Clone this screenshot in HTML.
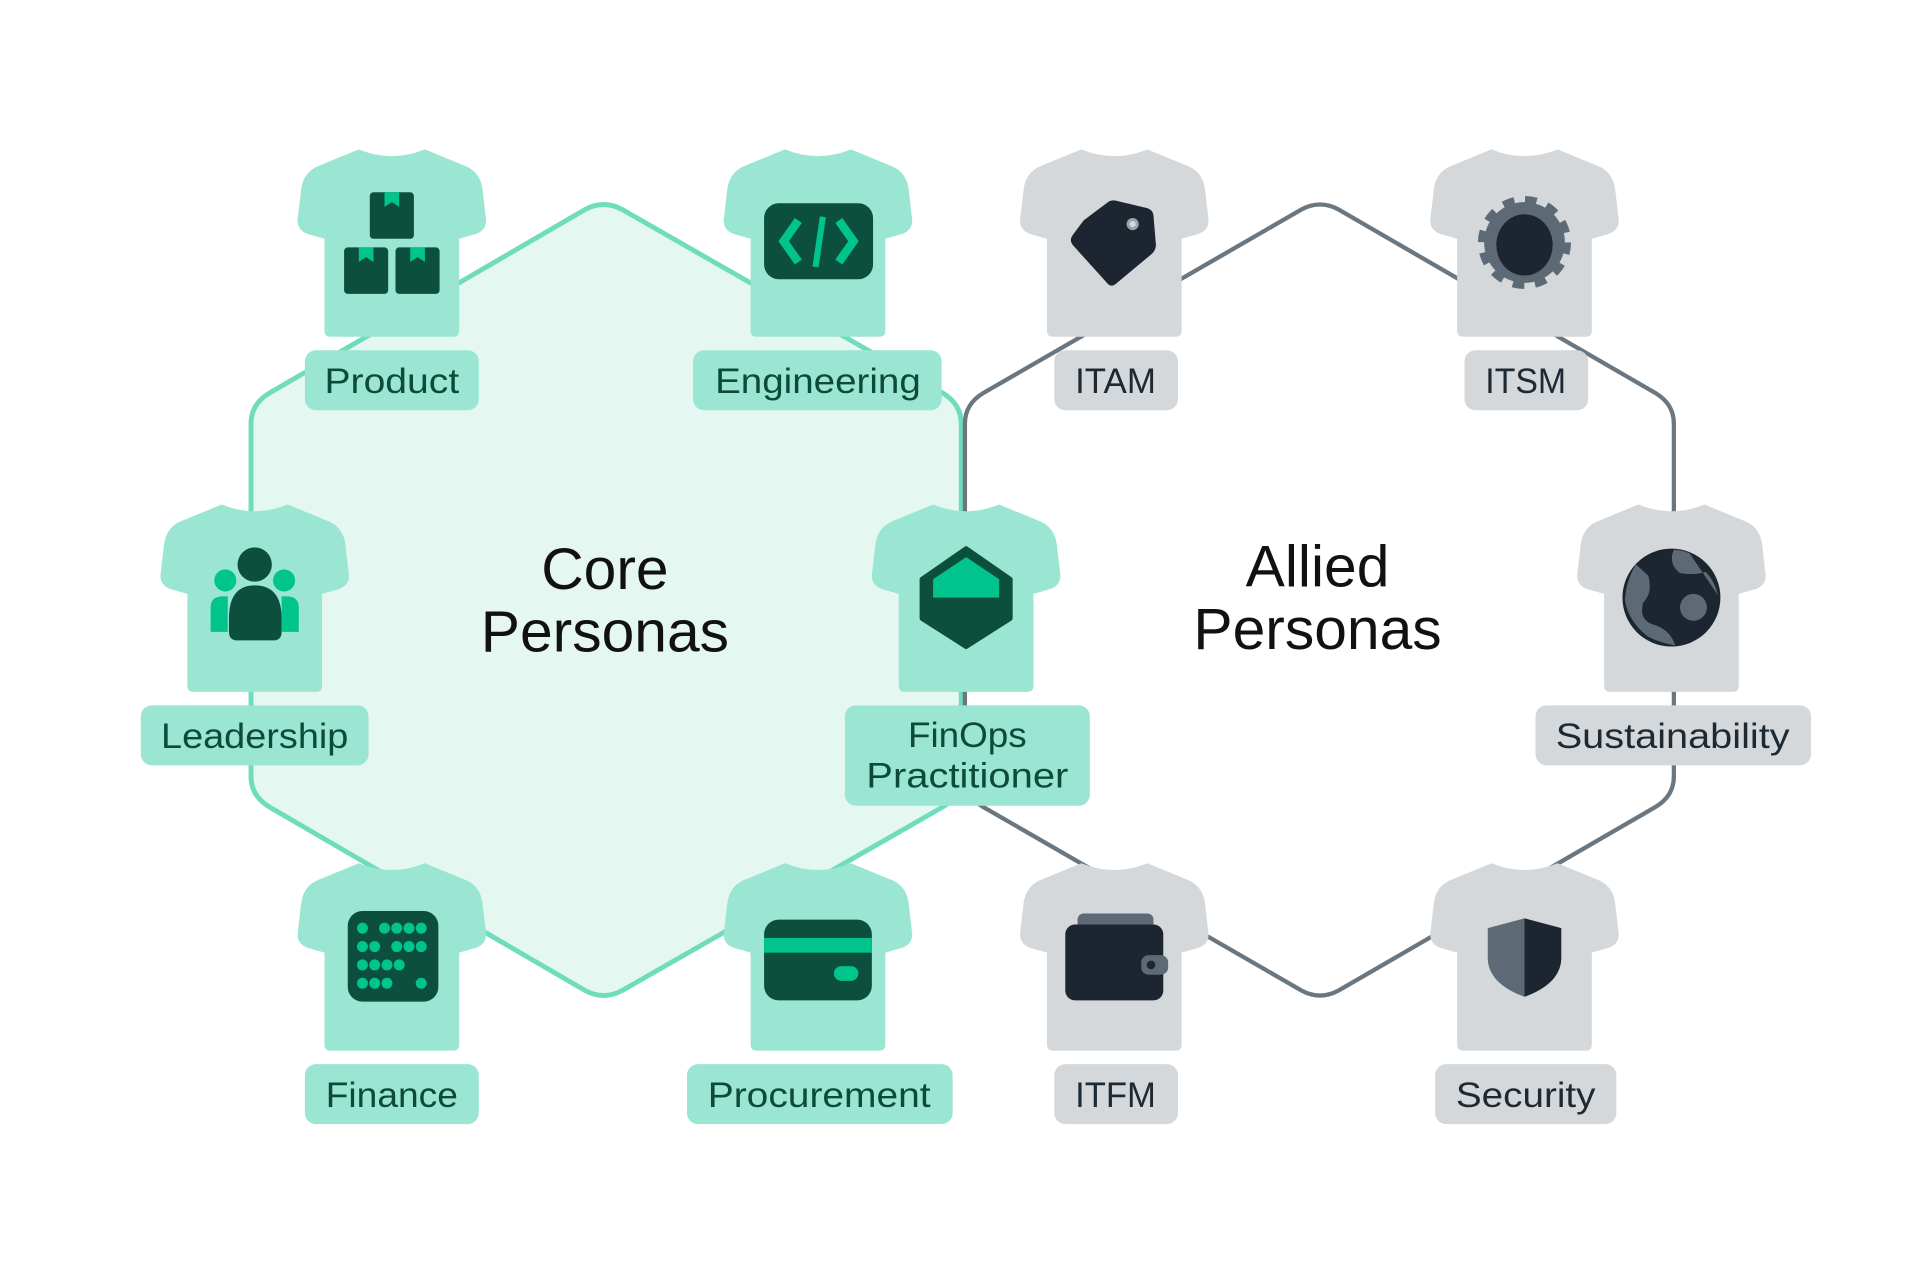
<!DOCTYPE html>
<html><head><meta charset="utf-8"><style>
html,body{margin:0;padding:0;background:#fff;}
svg{display:block}
text{font-family:"Liberation Sans",sans-serif;}
</style></head><body>
<svg width="1920" height="1274" viewBox="0 0 1568 1040.4" xmlns="http://www.w3.org/2000/svg">
<defs>
<path id="shirt" d="M50,2 Q77,13 104,2 L138,16 Q149,21 151,34 L154,60 Q154,68 146,71 L132,75 L132,150 Q132,155 127,155 L27,155 Q22,155 22,150 L22,75 L8,71 Q0,68 0,60 L3,34 Q5,21 16,16 Z"/>
</defs>
<!-- hexagons -->
<path d="M478,171 Q493,163 508,171 L770,321 Q785,330 785,346 L785,634 Q785,650 770,659 L508,809 Q493,817 478,809 L220,659 Q205,650 205,634 L205,346 Q205,330 220,321 Z" fill="#e5f7f1" stroke="#6fdcbc" stroke-width="4"/>
<path d="M1063,171 Q1078,163 1093,171 L1352,321 Q1367,330 1367,346 L1367,634 Q1367,650 1352,659 L1093,809 Q1078,817 1063,809 L803,659 Q788,650 788,634 L788,346 Q788,330 803,321 Z" fill="none" stroke="#6b7780" stroke-width="3.5"/>
<!-- titles -->
<text x="494" y="481" font-size="48" text-anchor="middle" fill="#111">Core</text>
<text x="494" y="532" font-size="48" text-anchor="middle" fill="#111">Personas</text>
<text x="1076" y="479" font-size="48" text-anchor="middle" fill="#111">Allied</text>
<text x="1076" y="530" font-size="48" text-anchor="middle" fill="#111">Personas</text>

<!-- green shirts -->
<g fill="#9ae6d2">
<use href="#shirt" x="243" y="120"/>
<use href="#shirt" x="591" y="120"/>
<use href="#shirt" x="131" y="410"/>
<use href="#shirt" x="712" y="410"/>
<use href="#shirt" x="243" y="703"/>
<use href="#shirt" x="591" y="703"/>
</g>
<g fill="#d4d8db">
<use href="#shirt" x="833" y="120"/>
<use href="#shirt" x="1168" y="120"/>
<use href="#shirt" x="1288" y="410"/>
<use href="#shirt" x="833" y="703"/>
<use href="#shirt" x="1168" y="703"/>
</g>

<!-- icons: Product -->
<g fill="#0b4f3c">
<rect x="302" y="157" width="36" height="38" rx="3"/>
<rect x="281" y="202" width="36" height="38" rx="3"/>
<rect x="323" y="202" width="36" height="38" rx="3"/>
</g>
<g fill="#00c48c">
<path d="M314,157 h12 v12 l-6,-4 l-6,4z"/>
<path d="M293,202 h12 v12 l-6,-4 l-6,4z"/>
<path d="M335,202 h12 v12 l-6,-4 l-6,4z"/>
</g>
<!-- Engineering -->
<rect x="624" y="166" width="89" height="62" rx="12" fill="#0b4f3c"/>
<path d="M652,180 L640,197 L652,214 M685,180 L697,197 L685,214" stroke="#00c48c" stroke-width="7" fill="none"/>
<path d="M672,177 L666,218" stroke="#00c48c" stroke-width="5"/>
<!-- Leadership -->
<g fill="#0b4f3c"><circle cx="208" cy="461" r="14"/><path d="M187,505 Q187,478 208,478 Q230,478 230,505 L230,516 Q230,523 223,523 L194,523 Q187,523 187,516Z"/></g>
<g fill="#00c48c"><circle cx="184" cy="474" r="9"/><circle cx="232" cy="474" r="9"/><path d="M172,516 L172,496 Q172,487 182,487 L186,487 L186,516Z"/><path d="M244,516 L244,496 Q244,487 234,487 L230,487 L230,516Z"/></g>
<!-- FinOps -->
<path d="M789,448 L825,473 L825,505 L789,528 L753,505 L753,473 Z" fill="#0b4f3c" stroke="#0b4f3c" stroke-width="4" stroke-linejoin="round"/>
<path d="M789,455 L816,473 L816,488 L762,488 L762,473 Z" fill="#00c48c"/>
<!-- Finance -->
<rect x="284" y="744" width="74" height="74" rx="12" fill="#0b4f3c"/>
<g fill="#00c48c">
<circle cx="296" cy="758" r="4.5"/><circle cx="314" cy="758" r="4.5"/><circle cx="324" cy="758" r="4.5"/><circle cx="334" cy="758" r="4.5"/><circle cx="344" cy="758" r="4.5"/>
<circle cx="296" cy="773" r="4.5"/><circle cx="306" cy="773" r="4.5"/><circle cx="324" cy="773" r="4.5"/><circle cx="334" cy="773" r="4.5"/><circle cx="344" cy="773" r="4.5"/>
<circle cx="296" cy="788" r="4.5"/><circle cx="306" cy="788" r="4.5"/><circle cx="316" cy="788" r="4.5"/><circle cx="326" cy="788" r="4.5"/>
<circle cx="296" cy="803" r="4.5"/><circle cx="306" cy="803" r="4.5"/><circle cx="316" cy="803" r="4.5"/><circle cx="344" cy="803" r="4.5"/>
</g>
<!-- Procurement -->
<rect x="624" y="751" width="88" height="66" rx="12" fill="#0b4f3c"/>
<rect x="624" y="766" width="88" height="12" fill="#00c48c"/>
<rect x="681" y="789" width="20" height="12" rx="6" fill="#00c48c"/>
<!-- ITAM -->
<path d="M885,180 L905,165 Q908,163 912,164 L937,170 Q942,172 942,176 L944,200 Q944,204 941,207 L911,232 Q907,235 904,231 L876,200 Q873,196 876,192Z" fill="#1c2530"/>
<circle cx="925" cy="183" r="5" fill="#9aa3aa"/><circle cx="925" cy="183" r="2.5" fill="#d4d8db"/>
<!-- ITSM -->
<circle cx="1245" cy="198" r="33" fill="#5d6a75" stroke="#5d6a75" stroke-width="10" stroke-dasharray="9 8.3"/>
<circle cx="1245" cy="198" r="32" fill="#5d6a75"/>
<ellipse cx="1245" cy="200" rx="23" ry="25" fill="#1c2530"/>
<!-- Sustainability -->
<circle cx="1365" cy="488" r="40" fill="#1c2530"/>
<path d="M1336,461 Q1328,474 1327,490 Q1330,508 1346,520 Q1356,525 1368,527 Q1364,514 1350,510 Q1338,506 1342,492 Q1350,484 1346,470 Z" fill="#5d6a75"/>
<path d="M1367,449 Q1362,460 1372,468 Q1384,470 1393,467 Q1400,474 1403,486 Q1392,470 1380,452 Q1374,449 1367,449Z" fill="#5d6a75"/>
<circle cx="1383" cy="496" r="11" fill="#5d6a75"/>
<!-- ITFM -->
<rect x="880" y="746" width="62" height="14" rx="5" fill="#5d6a75"/>
<rect x="870" y="755" width="80" height="62" rx="8" fill="#1c2530"/>
<rect x="932" y="780" width="22" height="16" rx="6" fill="#5d6a75"/>
<circle cx="940" cy="788" r="3.5" fill="#1c2530"/>
<!-- Security -->
<path d="M1245,750 L1275,758 L1275,782 Q1275,803 1245,814 Q1215,803 1215,782 L1215,758 Z" fill="#5d6a75"/>
<path d="M1245,750 L1275,758 L1275,782 Q1275,803 1245,814 Z" fill="#1c2530"/>

<!-- labels green -->
<g fill="#9ae6d2">
<rect x="249" y="286" width="142" height="49" rx="9"/>
<rect x="566" y="286" width="203" height="49" rx="9"/>
<rect x="115" y="576" width="186" height="49" rx="9"/>
<rect x="690" y="576" width="200" height="82" rx="9"/>
<rect x="249" y="869" width="142" height="49" rx="9"/>
<rect x="561" y="869" width="217" height="49" rx="9"/>
</g>
<g fill="#d4d8db">
<rect x="861" y="286" width="101" height="49" rx="9"/>
<rect x="1196" y="286" width="101" height="49" rx="9"/>
<rect x="1254" y="576" width="225" height="49" rx="9"/>
<rect x="861" y="869" width="101" height="49" rx="9"/>
<rect x="1172" y="869" width="148" height="49" rx="9"/>
</g>
<g font-size="29" text-anchor="middle" fill="#0d4a3a" lengthAdjust="spacingAndGlyphs">
<text x="320" y="321" textLength="110" lengthAdjust="spacingAndGlyphs">Product</text>
<text x="668" y="321" textLength="168" lengthAdjust="spacingAndGlyphs">Engineering</text>
<text x="208" y="611" textLength="153" lengthAdjust="spacingAndGlyphs">Leadership</text>
<text x="790" y="610" textLength="97" lengthAdjust="spacingAndGlyphs">FinOps</text>
<text x="790" y="643" textLength="165" lengthAdjust="spacingAndGlyphs">Practitioner</text>
<text x="320" y="904" textLength="108" lengthAdjust="spacingAndGlyphs">Finance</text>
<text x="669" y="904" textLength="182" lengthAdjust="spacingAndGlyphs">Procurement</text>
</g>
<g font-size="29" text-anchor="middle" fill="#1e2a33">
<text x="911" y="321" textLength="66" lengthAdjust="spacingAndGlyphs">ITAM</text>
<text x="1246" y="321" textLength="66" lengthAdjust="spacingAndGlyphs">ITSM</text>
<text x="1366" y="611" textLength="191" lengthAdjust="spacingAndGlyphs">Sustainability</text>
<text x="911" y="904" textLength="66" lengthAdjust="spacingAndGlyphs">ITFM</text>
<text x="1246" y="904" textLength="114" lengthAdjust="spacingAndGlyphs">Security</text>
</g>
</svg>
</body></html>
